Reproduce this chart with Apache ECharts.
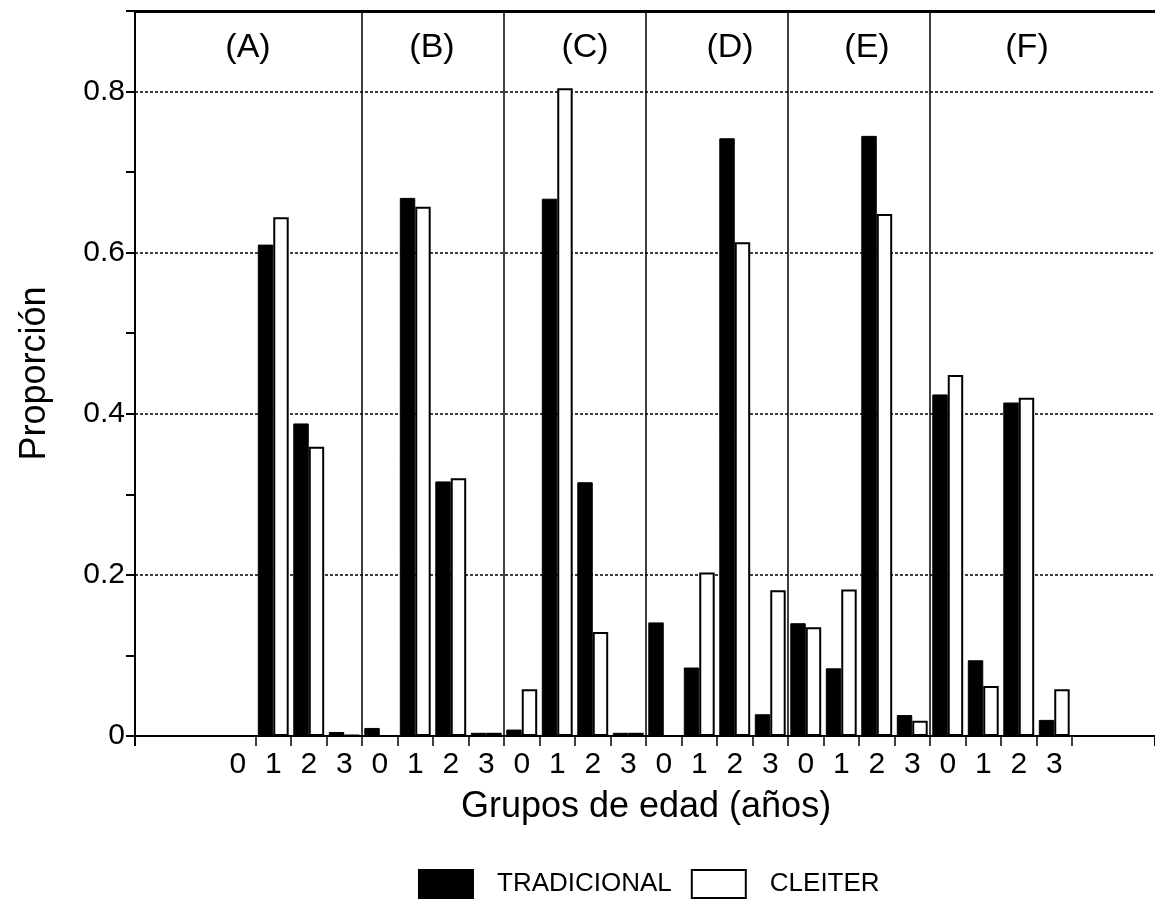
<!DOCTYPE html>
<html>
<head>
<meta charset="utf-8">
<script src="https://cdn.jsdelivr.net/npm/echarts@6/dist/echarts.min.js"></script>
<style>
html,body{margin:0;padding:0;background:#fff;}
#chart{width:1155px;height:900px;}
</style>
</head>
<body>
<div id="chart"></div>
<script>
// ---- data ----
var panels = ['(A)', '(B)', '(C)', '(D)', '(E)', '(F)'];
var ageGroups = ['0', '1', '2', '3'];
var tradicional = [
  0.000, 0.610, 0.388, 0.005,
  0.010, 0.668, 0.316, 0.004,
  0.008, 0.667, 0.315, 0.004,
  0.141, 0.085, 0.742, 0.027,
  0.140, 0.084, 0.745, 0.026,
  0.424, 0.094, 0.414, 0.020
];
var cleiter = [
  0.000, 0.644, 0.359, 0.001,
  0.000, 0.657, 0.320, 0.004,
  0.058, 0.804, 0.129, 0.004,
  0.000, 0.203, 0.613, 0.181,
  0.135, 0.182, 0.648, 0.019,
  0.448, 0.062, 0.420, 0.058
];
var yTicks = [0, 0.2, 0.4, 0.6, 0.8];
var panelLabelX = [248, 432, 585, 730, 867, 1027];

// ---- build ----
var categories = [];
panels.forEach(function (p) { ageGroups.forEach(function (g) { categories.push(g); }); });

var FONT = 'Liberation Sans, Arial, Helvetica, sans-serif';
var chart = echarts.init(document.getElementById('chart'), null, {renderer: 'canvas'});

var plotTop = 11, plotBottom = 164;

var option = {
  backgroundColor: '#ffffff',
  animation: false,
  textStyle: {fontFamily: FONT, color: '#000'},
  grid: [
    {left: 135, right: 0, top: plotTop, bottom: plotBottom, containLabel: false},
    {left: 220, right: 83, top: plotTop, bottom: plotBottom, containLabel: false}
  ],
  legend: {
    data: ['TRADICIONAL', 'CLEITER'],
    left: 418, top: 869, padding: 0,
    itemWidth: 54, itemHeight: 28, itemGap: 19,
    icon: 'rect',
    textStyle: {fontFamily: FONT, fontSize: 26, color: '#000', padding: [0, 0, 0, 19]}
  },
  xAxis: [
    { // outer bottom frame line
      gridIndex: 0, type: 'value', min: 0, max: 1, interval: 1, position: 'bottom',
      axisLine: {show: true, lineStyle: {color: '#000', width: 2}},
      axisTick: {show: true, length: 10, lineStyle: {color: '#000', width: 2}},
      axisLabel: {show: false}, splitLine: {show: false}
    },
    { // outer top frame line
      gridIndex: 0, type: 'value', min: 0, max: 1, position: 'top',
      axisLine: {show: true, lineStyle: {color: '#000', width: 3}},
      axisTick: {show: false}, axisLabel: {show: false}, splitLine: {show: false}
    },
    { // category axis with age groups
      gridIndex: 1, type: 'category', data: categories, position: 'bottom',
      boundaryGap: true,
      axisLine: {show: false},
      axisTick: {show: true, length: 10, interval: function (i) { return i >= 1; },
                 lineStyle: {color: '#000', width: 1.5}},
      axisLabel: {show: true, interval: 0, margin: 14, fontSize: 30, fontFamily: FONT, color: '#000'},
      splitLine: {show: true, interval: function (i) { return i > 0 && i % 4 === 0; },
                  lineStyle: {color: ['#000', '#000', '#000', '#000', '#000', 'rgba(0,0,0,0)'], width: 1.5}},
      name: 'Grupos de edad (años)', nameLocation: 'middle', nameGap: 53,
      nameTextStyle: {fontSize: 36, fontFamily: FONT, color: '#000'}
    }
  ],
  yAxis: [
    {
      gridIndex: 0, type: 'value', min: 0, max: 0.9, interval: 0.1,
      axisLine: {show: true, lineStyle: {color: '#000', width: 2}},
      axisTick: {show: true, inside: false, length: 9, lineStyle: {color: '#000', width: 2}},
      axisLabel: {
        show: true, margin: 10, fontSize: 30, fontFamily: FONT, color: '#000',
        formatter: function (v) {
          var k = Math.round(v * 10);
          for (var j = 0; j < yTicks.length; j++) {
            if (Math.round(yTicks[j] * 10) === k) return k === 0 ? '0' : yTicks[j].toFixed(1);
          }
          return '';
        }
      },
      splitLine: {show: true, lineStyle: {color: ['#000', 'rgba(0,0,0,0)'], width: 1.5, type: [3, 2]}},
      name: 'Proporción', nameLocation: 'middle', nameGap: 82,
      nameTextStyle: {fontSize: 36, fontFamily: FONT, color: '#000'}
    },
    {
      gridIndex: 1, type: 'value', min: 0, max: 0.9, show: false
    }
  ],
  series: [
    {
      name: 'TRADICIONAL', type: 'bar', xAxisIndex: 2, yAxisIndex: 1,
      data: tradicional, barGap: '0%', barCategoryGap: '13%',
      itemStyle: {color: '#000', borderColor: '#000', borderWidth: 1}
    },
    {
      name: 'CLEITER', type: 'bar', xAxisIndex: 2, yAxisIndex: 1,
      data: cleiter, barGap: '0%', barCategoryGap: '13%',
      itemStyle: {color: '#fff', borderColor: '#000', borderWidth: 2}
    }
  ],
  graphic: panels.map(function (p, i) {
    return {
      type: 'text', x: panelLabelX[i], y: 48, z: 10,
      style: {text: p, font: '34px ' + FONT, fill: '#000', textAlign: 'center', textVerticalAlign: 'middle'}
    };
  })
};
chart.setOption(option);
</script>
</body>
</html>
